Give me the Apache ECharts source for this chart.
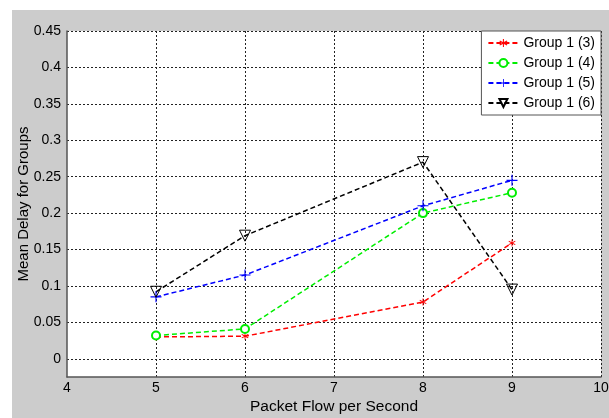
<!DOCTYPE html>
<html><head><meta charset="utf-8">
<script src="https://cdn.jsdelivr.net/npm/echarts@6/dist/echarts.min.js"></script>
<style>
html,body{margin:0;padding:0;background:#fff;}
#bg{position:absolute;left:12px;top:10px;width:597px;height:408px;background:#cccccc;}
#chart{position:absolute;left:0;top:0;width:609px;height:418px;}
</style></head>
<body><div id="bg"></div><div id="chart"></div>
<script>
const xValues = [5, 6, 8, 9];
const group3 = [0.030, 0.031, 0.078, 0.159];
const group4 = [0.032, 0.041, 0.200, 0.228];
const group5 = [0.085, 0.115, 0.210, 0.245];
const group6 = [0.092, 0.169, 0.270, 0.095];
const seriesNames = ['Group 1 (3)', 'Group 1 (4)', 'Group 1 (5)', 'Group 1 (6)'];
const yTickLabels = ['0', '0.05', '0.1', '0.15', '0.2', '0.25', '0.3', '0.35', '0.4', '0.45'];
const xTickLabels = ['4', '5', '6', '7', '8', '9', '10'];

const font = 'Liberation Sans, Arial, sans-serif';
const pair = arr => xValues.map((x, i) => [x, arr[i]]);
const plusPath = 'path://M4.5,0 L5.5,0 L5.5,4.5 L10,4.5 L10,5.5 L5.5,5.5 L5.5,10 L4.5,10 L4.5,5.5 L0,5.5 L0,4.5 L4.5,4.5 Z';
const starPath = 'path://M4.4,0 L5.6,0 L5.6,3.8 L9,2 L9.6,3 L6.3,5 L9.6,7 L9,8 L5.6,6.2 L5.6,10 L4.4,10 L4.4,6.2 L1,8 L0.4,7 L3.7,5 L0.4,3 L1,2 L4.4,3.8 Z';
const triPath = 'path://M0,0 L10,0 L5,9 Z';
const dash = [5, 3];

function mk(name, data, color, symbol, size, itemStyle) {
  return {
    name, type: 'line', data: pair(data), symbol, symbolSize: size,
    lineStyle: {color, width: 1.5, type: dash},
    itemStyle: Object.assign({color}, itemStyle || {}),
    emphasis: {disabled: true}, animation: false
  };
}

const chart = echarts.init(document.getElementById('chart'), null, {renderer: 'canvas'});
chart.setOption({
  backgroundColor: 'transparent',
  animation: false,
  grid: {left: 67, right: 8, top: 31, bottom: 41, containLabel: false, outerBoundsMode: 'none',
    show: true, backgroundColor: '#ffffff', borderWidth: 0},
  xAxis: {
    type: 'value', min: 4, max: 10, interval: 1,
    name: 'Packet Flow per Second', nameLocation: 'middle', nameGap: 22, nameMoveOverlap: false,
    nameTextStyle: {fontFamily: font, fontSize: 15.5, color: '#000'},
    axisLine: {show: true, onZero: false, lineStyle: {color: '#555', width: 1.5}},
    axisTick: {show: false},
    axisLabel: {fontFamily: font, fontSize: 14, color: '#000', margin: 4,
      formatter: v => xTickLabels[Math.round(v - 4)]},
    splitLine: {show: true, showMinLine: false, lineStyle: {color: '#222', type: [2, 2], width: 1}}
  },
  yAxis: {
    type: 'value', min: -0.025, max: 0.45, interval: 0.025,
    name: 'Mean Delay for Groups', nameLocation: 'middle', nameGap: 36, nameRotate: 90, nameMoveOverlap: false,
    nameTextStyle: {fontFamily: font, fontSize: 15, color: '#000'},
    axisLine: {show: true, onZero: false, lineStyle: {color: '#555', width: 1.5}},
    axisTick: {show: false},
    axisLabel: {fontFamily: font, fontSize: 14, color: '#000', margin: 6,
      formatter: v => {
        const k = Math.round(v / 0.025);
        if (k < 0 || k % 2 !== 0) return '';
        return yTickLabels[k / 2];
      }},
    splitLine: {show: true, lineStyle: {color: ['rgba(0,0,0,0)', '#222'], type: [2, 2], width: 1}}
  },
  legend: {
    data: seriesNames, orient: 'vertical', right: 8, top: 31,
    backgroundColor: '#fff', borderColor: '#555', borderWidth: 1, borderRadius: 0,
    padding: [5, 6, 5, 6], itemGap: 6, itemWidth: 30, itemHeight: 10,
    textStyle: {fontFamily: font, fontSize: 14, color: '#000'}
  },
  series: [
    mk(seriesNames[0], group3, '#ff0000', starPath, 7),
    mk(seriesNames[1], group4, '#00ee00', 'emptyCircle', 8, {borderWidth: 1.5}),
    mk(seriesNames[2], group5, '#0000ff', plusPath, 11),
    mk(seriesNames[3], group6, '#000000', triPath, 11, {color: 'rgba(255,255,255,0)', borderColor: '#000', borderWidth: 1})
  ]
});
</script></body></html>
